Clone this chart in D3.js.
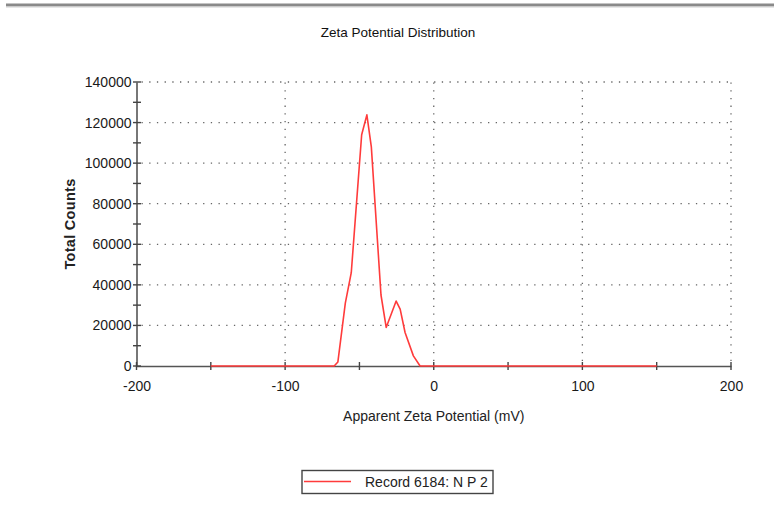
<!DOCTYPE html>
<html>
<head>
<meta charset="utf-8">
<script src="https://cdn.jsdelivr.net/npm/d3@7"></script>
<style>
body{margin:0;background:#fff;}
text{font-family:"Liberation Sans",Arial,sans-serif;fill:#222;}
</style>
</head>
<body>
<div id="plot"></div>
<script>
// zeta potential distribution, one record
var zetaMv = [-150,-67,-64.5,-59.5,-55.5,-48.5,-45,-42,-35.5,-32,-25.3,-22.6,-19.3,-13.7,-9.2,150];
var totalCounts = [0,0,2000,31000,46000,114000,123800,108000,35000,19000,32000,28000,16500,5000,0,0];
var xTicks = [-200,-100,0,100,200],
	xMinor = [-150,-50,50,150],
	yTicks = [0,20000,40000,60000,80000,100000,120000,140000],
	yMinor = [10000,30000,50000,70000,90000,110000,130000];
var legendLabel = 'Record 6184: N P 2';

var W = 774, H = 506;
var m = {t:82,r:43,b:140,l:136.5};

var x = d3.scaleLinear().domain([-200,200]).range([m.l,W-m.r]),
	y = d3.scaleLinear().domain([0,140000]).range([H-m.b,m.t]);

var svg = d3.select('#plot').append('svg')
	.attr('width',W).attr('height',H);

//top border
svg.append('rect').attr('x',6).attr('y',3.5).attr('width',W-6).attr('height',3)
	.style('fill','#8a8a8a');
svg.append('rect').attr('x',6).attr('y',6.5).attr('width',W-6).attr('height',1)
	.style('fill','#d0d0d0');

svg.append('text').attr('x',398).attr('y',36.5)
	.attr('text-anchor','middle').style('font-size','13.5px').style('fill','#111')
	.text('Zeta Potential Distribution');

//dotted grid
var grid = svg.append('g').style('stroke','#666').style('stroke-width',1.3)
	.style('stroke-dasharray','1.3,6.4').style('stroke-linecap','butt');
grid.selectAll('.hg').data(yTicks.filter(function(d){return d>0}))
	.enter().append('line')
	.attr('x1',x(-200)+5).attr('x2',x(200))
	.attr('y1',function(d){return y(d)}).attr('y2',function(d){return y(d)});
grid.selectAll('.vg').data(xTicks.filter(function(d){return d>-200}))
	.enter().append('line')
	.attr('x1',function(d){return x(d)}).attr('x2',function(d){return x(d)})
	.attr('y1',y(0)-5).attr('y2',y(140000));

//axes, plain hyphen for negatives
var fmt = function(d){return String(d)};
var yAxis = d3.axisLeft(y).tickValues(yTicks).tickSize(0).tickPadding(5).tickFormat(fmt);
var xAxis = d3.axisBottom(x).tickValues(xTicks).tickSize(0).tickPadding(15).tickFormat(fmt);

var gy = svg.append('g').attr('transform','translate('+x(-200)+',0)').call(yAxis);
var gx = svg.append('g').attr('transform','translate(0,'+y(0)+')').call(xAxis);
[gx,gy].forEach(function(g){
	g.select('.domain').style('stroke','#555').style('stroke-width',1.6);
	g.selectAll('text').style('font-size','14px').style('fill','#1a1a1a');
});

var ticks = svg.append('g').style('stroke','#444').style('stroke-width',1.4);
ticks.selectAll('.yt').data(yTicks.concat(yMinor)).enter().append('line')
	.attr('x1',x(-200)-3.5).attr('x2',x(-200)+4.5)
	.attr('y1',function(d){return y(d)}).attr('y2',function(d){return y(d)});
ticks.selectAll('.xt').data(xTicks.concat(xMinor)).enter().append('line')
	.attr('x1',function(d){return x(d)}).attr('x2',function(d){return x(d)})
	.attr('y1',y(0)-4).attr('y2',y(0)+4);

//curve
var line = d3.line()
	.x(function(d){return x(d[0])})
	.y(function(d){return y(d[1])});
svg.append('path').datum(d3.zip(zetaMv,totalCounts))
	.attr('d',line)
	.style('fill','none').style('stroke','#ff3b3b').style('stroke-width',1.6)
	.style('stroke-linejoin','round');

svg.append('text').attr('x',x(0)).attr('y',421)
	.attr('text-anchor','middle').style('font-size','14px')
	.text('Apparent Zeta Potential (mV)');

svg.append('text')
	.attr('transform','translate(75,'+y(70000)+') rotate(-90)')
	.attr('text-anchor','middle').style('font-size','14.5px').style('font-weight','bold')
	.style('letter-spacing','0.3px')
	.text('Total Counts');

//legend
var lg = svg.append('g');
lg.append('rect').attr('x',302).attr('y',470.5).attr('width',191).attr('height',23)
	.style('fill','#fff').style('stroke','#444').style('stroke-width',1.4);
lg.append('line').attr('x1',304).attr('x2',351).attr('y1',481.5).attr('y2',481.5)
	.style('stroke','#ff3b3b').style('stroke-width',1.6);
lg.append('text').attr('x',365).attr('y',487).style('font-size','14px')
	.text(legendLabel);
</script>
</body>
</html>
